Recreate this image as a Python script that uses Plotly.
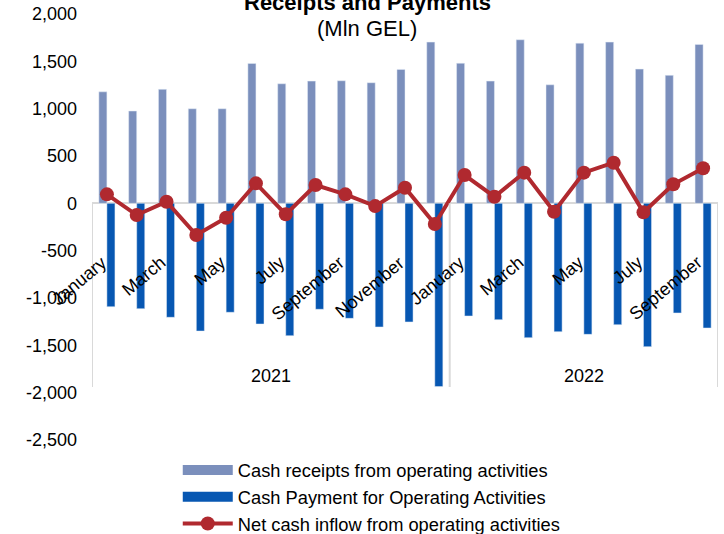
import plotly.graph_objects as go

# ---- data ----
months = ["January", "February", "March", "April", "May", "June", "July",
          "August", "September", "October", "November", "December",
          "January", "February", "March", "April", "May", "June", "July",
          "August", "September"]
years = ["2021"] * 12 + ["2022"] * 9
receipts = [1178, 975, 1204, 999, 999, 1478, 1263, 1291, 1295, 1274, 1415, 1703,
            1480, 1291, 1728, 1252, 1692, 1703, 1418, 1352, 1679]
payments = [-1092, -1113, -1204, -1349, -1151, -1275, -1398, -1119, -1215, -1306,
            -1253, -1936, -1190, -1229, -1419, -1356, -1384, -1282, -1514, -1158, -1317]
net = [95, -124, 17, -335, -152, 211, -116, 193, 95, -29, 165, -219,
       299, 70, 324, -89, 324, 429, -95, 201, 370]
y_ticks = [2000, 1500, 1000, 500, 0, -500, -1000, -1500, -2000, -2500]

names = ["Cash receipts from operating activities",
         "Cash Payment for Operating Activities",
         "Net cash inflow from operating activities"]
c_rec = "#7b8fbc"
c_pay = "#0757b2"
c_net = "#b0292f"
FONT = "Liberation Sans, Arial, sans-serif"

x = list(range(len(months)))

fig = go.Figure()
fig.add_trace(go.Bar(x=x, y=receipts, name=names[0], marker_color=c_rec,
                     showlegend=False))
fig.add_trace(go.Bar(x=x, y=payments, name=names[1], marker_color=c_pay,
                     showlegend=False))
fig.add_trace(go.Scatter(x=x, y=net, name=names[2], mode="lines+markers",
                         line=dict(color=c_net, width=4),
                         marker=dict(color=c_net, size=14), showlegend=False))

# legend proxies (wide swatches like the original)
fig.add_trace(go.Scatter(x=[None], y=[None], mode="lines", name=names[0],
                         line=dict(color=c_rec, width=13)))
fig.add_trace(go.Scatter(x=[None], y=[None], mode="lines", name=names[1],
                         line=dict(color=c_pay, width=13)))
fig.add_trace(go.Scatter(x=[None], y=[None], mode="lines+markers", name=names[2],
                         line=dict(color=c_net, width=4),
                         marker=dict(color=c_net, size=14)))

annotations = []
# month labels (every other)
for i, m in enumerate(months):
    if i % 2 == 0:
        annotations.append(dict(x=i + 0.2, y=-490, xref="x", yref="y", text=m,
                                showarrow=False, textangle=-40,
                                xanchor="right", yanchor="top",
                                font=dict(size=18, color="#000000")))
# year labels & dividers
shapes = []
uniq = []
for yv in years:
    if yv not in uniq:
        uniq.append(yv)
for yv in uniq:
    idx = [i for i, v in enumerate(years) if v == yv]
    annotations.append(dict(x=(idx[0] + idx[-1]) / 2, y=-1824, xref="x", yref="y",
                            text=yv, showarrow=False,
                            font=dict(size=18, color="#000000")))
    shapes.append(dict(type="line", xref="x", yref="y", x0=idx[0] - 0.5,
                       x1=idx[0] - 0.5, y0=0, y1=-1940,
                       line=dict(color="#d9d9d9", width=2)))
shapes.append(dict(type="line", xref="x", yref="y", x0=len(years) - 0.5,
                   x1=len(years) - 0.5, y0=0, y1=-1940,
                   line=dict(color="#d9d9d9", width=2)))

# titles
annotations.append(dict(x=0.44, y=1.027, xref="paper", yref="paper",
                        yanchor="middle",
                        text="<b>Receipts and Payments</b>", showarrow=False,
                        font=dict(size=22, color="#000000")))
annotations.append(dict(x=0.44, y=0.967, xref="paper", yref="paper",
                        yanchor="middle",
                        text="(Mln GEL)", showarrow=False,
                        font=dict(size=22, color="#000000")))

fig.update_layout(
    width=724, height=534,
    margin=dict(l=92, r=6, t=14, b=94, autoexpand=False),
    paper_bgcolor="white", plot_bgcolor="white",
    font=dict(family=FONT, size=18, color="#000000"),
    barmode="group", bargap=0.46, bargroupgap=0,
    xaxis=dict(range=[-0.5, len(months) - 0.5], showticklabels=False,
               showgrid=False, zeroline=False, showline=False, ticks=""),
    yaxis=dict(range=[-2500, 2000], tickvals=y_ticks,
               ticktext=[f"{v:,}" for v in y_ticks],
               showgrid=False, zeroline=True, zerolinecolor="#d9d9d9",
               zerolinewidth=2, showline=False, ticks="",
               ticklabelstandoff=14, tickfont=dict(size=18)),
    legend=dict(x=0.137, y=-0.027, xanchor="left", yanchor="top",
                orientation="v", font=dict(size=18.3), itemwidth=50,
                bgcolor="rgba(0,0,0,0)", tracegroupgap=0),
    annotations=annotations,
    shapes=shapes,
)

fig.write_html("out.html", config={"displayModeBar": False},
               post_script="document.body.style.margin='0';"
                           "document.body.style.overflow='hidden';")
